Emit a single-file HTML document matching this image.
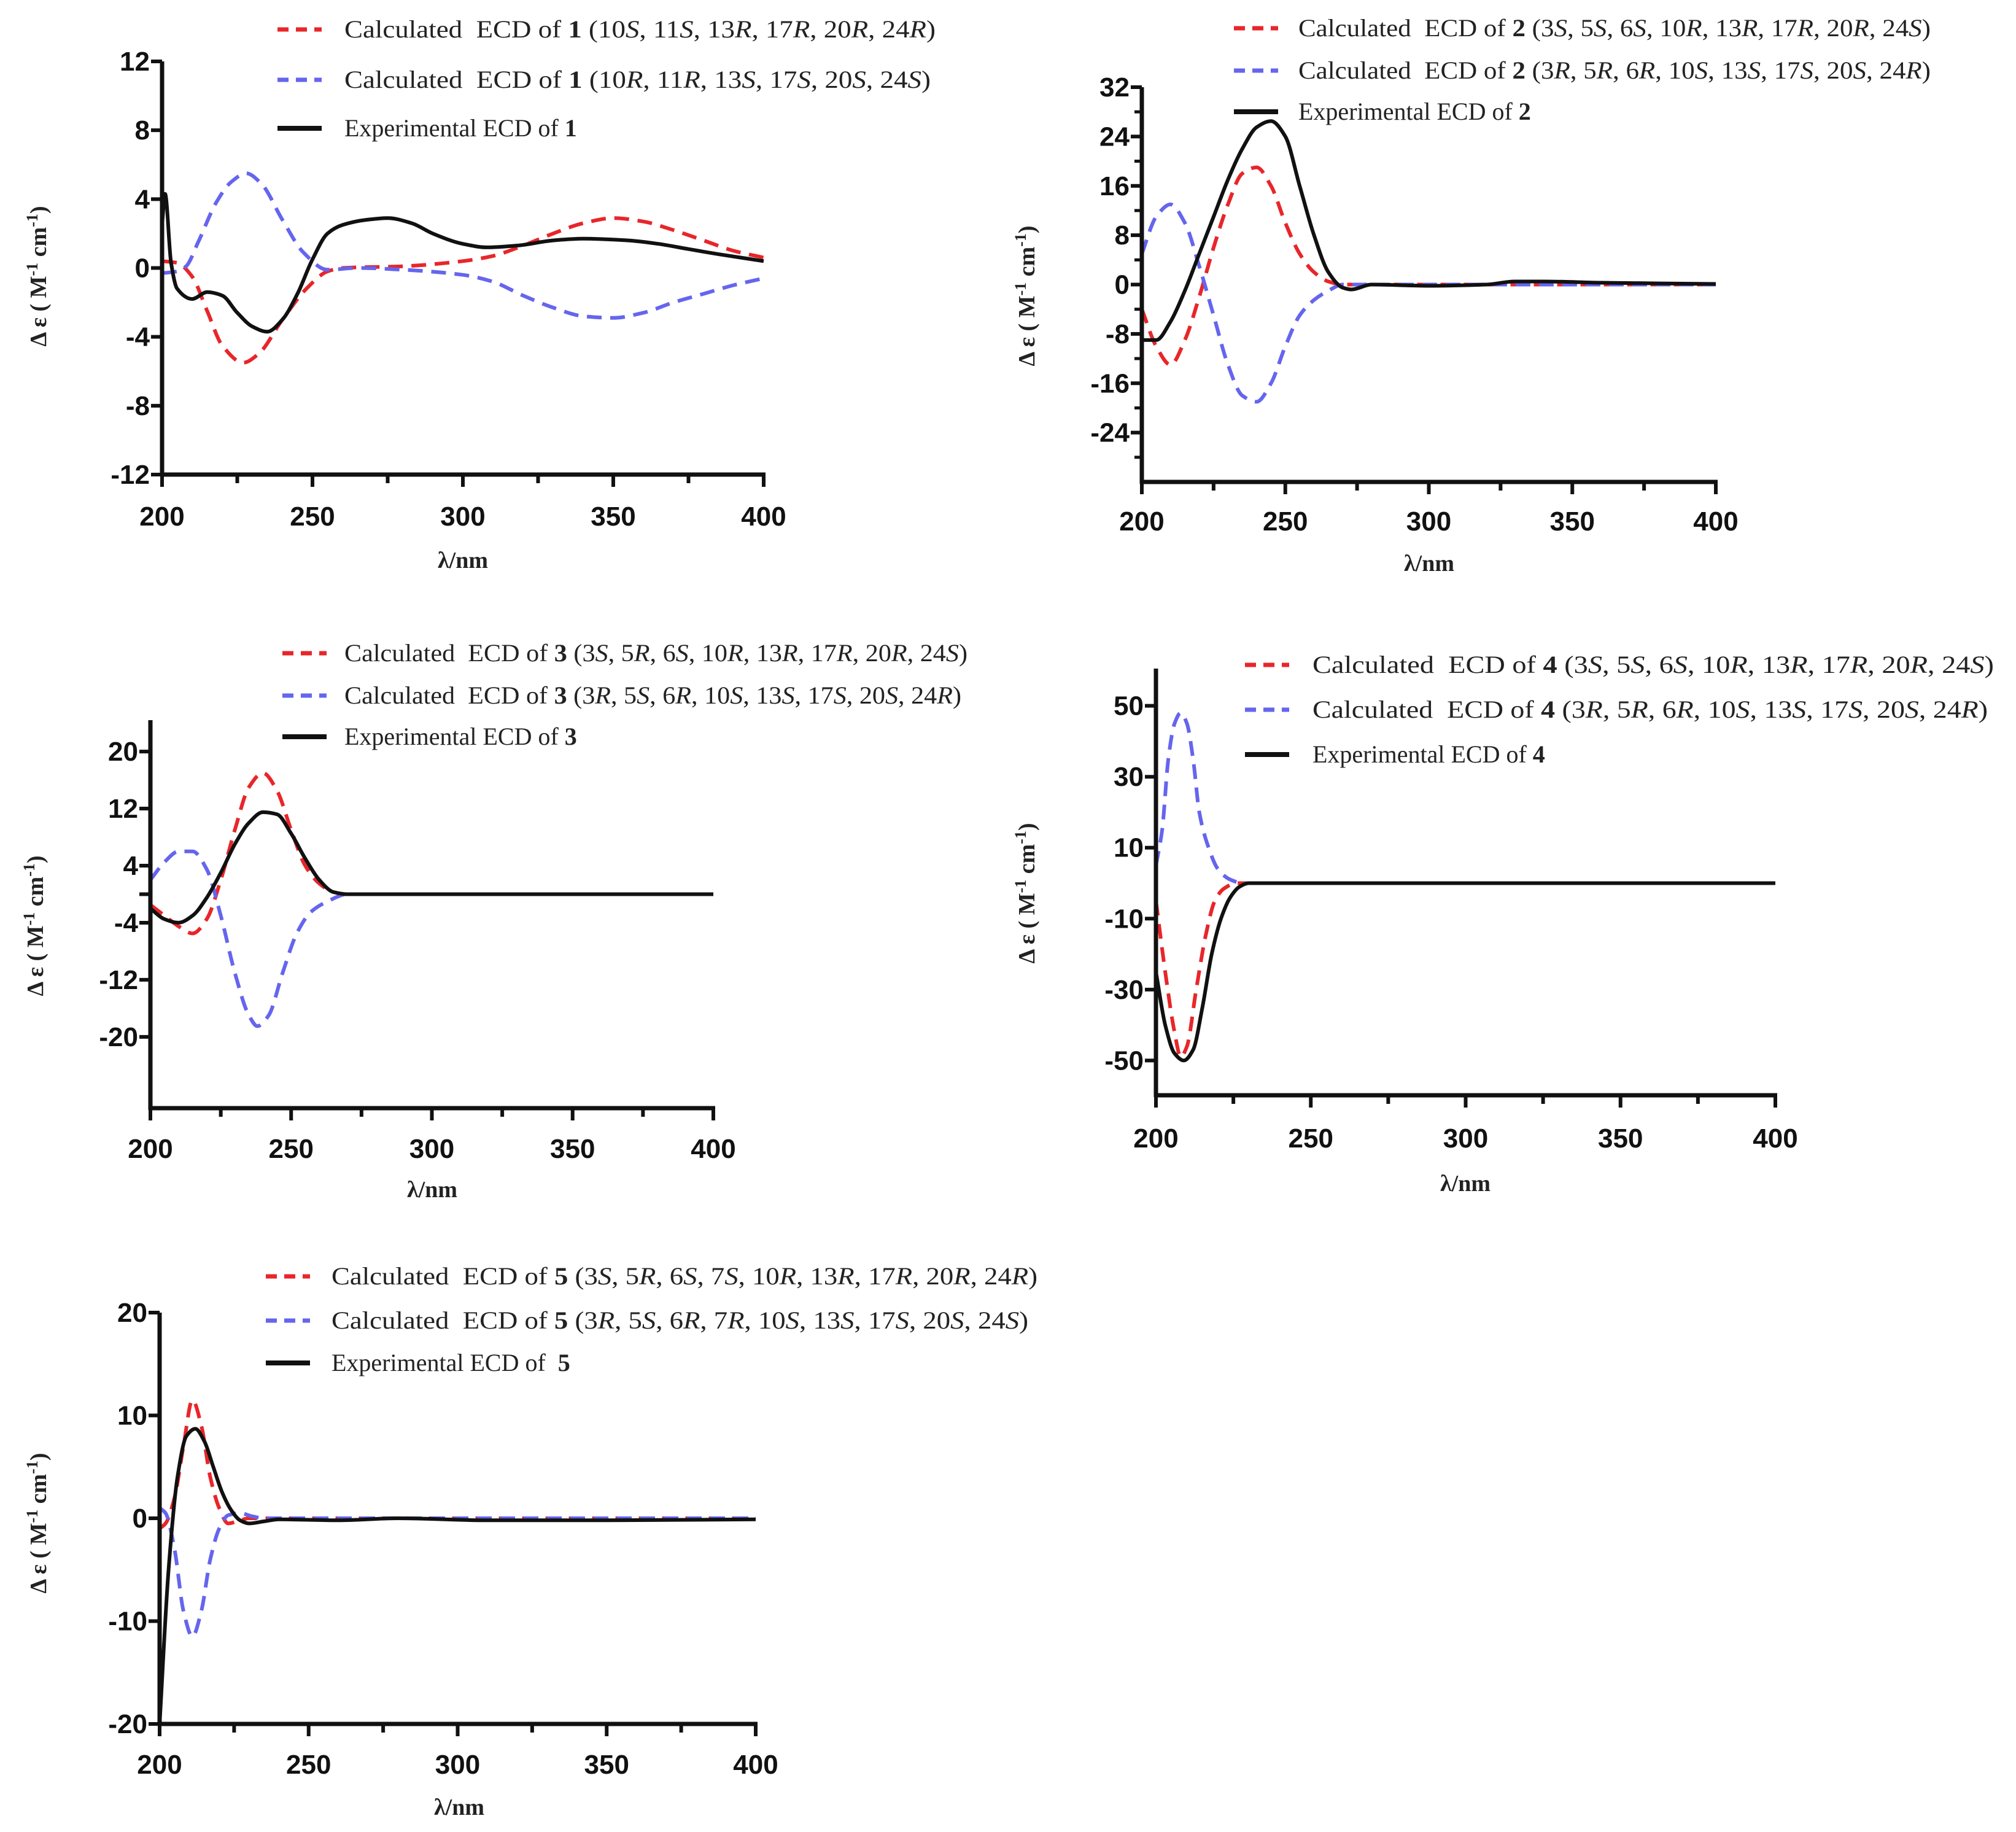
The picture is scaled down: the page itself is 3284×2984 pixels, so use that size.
<!DOCTYPE html>
<html><head><meta charset="utf-8">
<style>
html,body{margin:0;padding:0;background:#fff;}
svg{display:block;}
.tk{font-family:"Liberation Sans",sans-serif;font-weight:bold;font-size:44px;fill:#111;}
.lg{font-family:"Liberation Serif",serif;font-size:40px;fill:#222;}
.ti{font-family:"Liberation Serif",serif;font-weight:bold;font-size:38px;fill:#222;}
</style></head>
<body>
<svg id="fig" width="3284" height="2984" viewBox="0 0 3284 2984" xmlns="http://www.w3.org/2000/svg">
<rect width="3284" height="2984" fill="#fff"/>
</svg>
<script>
// ---- Chart 1 data ----
const c1RedX=[200,205,210,215,220,227,232,240,248,255,260,280,300,310,320,330,340,350,360,370,380,390,400];
const c1RedY=[0.4,0.3,-0.5,-2.5,-4.5,-5.5,-5,-3,-1.2,-0.2,0,0.1,0.4,0.7,1.3,2.0,2.6,2.9,2.7,2.2,1.6,1.0,0.6];
const c1BlueX=[200,205,208,212,218,223,228,233,240,247,255,265,280,300,310,320,330,340,350,360,370,380,390,400];
const c1BlueY=[-0.3,-0.2,0.1,1.5,3.8,5.0,5.5,4.9,2.8,0.9,-0.1,0,-0.1,-0.4,-0.8,-1.6,-2.3,-2.8,-2.9,-2.6,-2.0,-1.5,-1.0,-0.6];
const c1ExpX=[200,201,203,205,210,215,220,225,230,235,240,245,250,255,260,268,275,283,290,300,308,318,330,340,355,365,375,385,400];
const c1ExpY=[2.5,4.3,0.3,-1.2,-1.8,-1.4,-1.6,-2.6,-3.4,-3.7,-3.0,-1.5,0.5,2.0,2.5,2.8,2.9,2.6,2.0,1.4,1.2,1.3,1.6,1.7,1.6,1.4,1.1,0.8,0.4];
const c1Ticks=[12,8,4,0,-4,-8,-12];
// ---- Chart 2 data ----
const c2ExpX=[200,205,210,215,220,225,230,235,240,245,250,255,260,265,270,273,280,300,320,330,340,360,400];
const c2ExpY=[-9,-9,-6,-1,5,11,17,22,25.5,26.5,24,16,8,2,-0.5,-0.8,0,-0.2,0,0.5,0.5,0.3,0.1];
const c2RedX=[200,205,210,215,220,225,230,235,240,245,250,255,260,265,270,400];
const c2RedY=[-4,-10,-13,-9,-2,6,13,18,19,16,10,5,2,0.5,0,0];
const c2BlueX=[200,205,210,215,220,225,230,235,240,245,250,255,260,265,270,400];
const c2BlueY=[5,11,13,10,3,-5,-13,-18,-19,-16,-10,-5,-2.5,-1,0,0];
const c2Ticks=[32,24,16,8,0,-8,-16,-24];
// ---- Chart 3 data ----
const c3ExpX=[200,205,210,215,220,225,230,235,240,245,250,255,260,265,270,400];
const c3ExpY=[-2,-3.5,-4,-3,-0.5,3,7,10,11.5,11.2,8.5,5,2,0.3,0,0];
const c3RedX=[200,205,210,215,220,225,230,235,240,245,250,255,260,265,270,400];
const c3RedY=[-1.5,-3.0,-4.5,-5.5,-3.5,2,9,15,17,14.5,9,4,1.5,0.3,0,0];
const c3BlueX=[200,205,210,215,220,225,230,235,238,242,247,252,257,263,270,400];
const c3BlueY=[2,4.5,6,6,3.5,-3,-11,-17,-18.5,-17,-11,-5.5,-2.5,-1,0,0];
const c3Ticks=[20,12,4,-4,-12,-20];
// ---- Chart 4 data ----
const c4ExpX=[200,203,206,209,212,215,218,221,224,227,230,400];
const c4ExpY=[-25,-40,-48,-50,-47,-35,-20,-10,-4,-1,0,0];
const c4RedX=[200,203,206,208,210,213,216,219,222,226,400];
const c4RedY=[-5,-25,-42,-49,-46,-30,-15,-5,-1.5,0,0];
const c4BlueX=[200,202,204,206,208,210,212,214,217,220,224,228,400];
const c4BlueY=[5,15,35,45,48,45,35,20,10,4,1,0,0];
const c4Ticks=[50,30,10,-10,-30,-50];
// ---- Chart 5 data ----
const c5ExpX=[200,203,206,209,212,215,218,221,224,227,230,235,240,260,280,310,350,400];
const c5ExpY=[-20,-5,4,8,8.7,7.5,5,2.5,0.8,-0.2,-0.5,-0.3,-0.1,-0.2,0,-0.2,-0.2,-0.1];
const c5RedX=[200,202,205,208,211,214,217,220,223,226,230,400];
const c5RedY=[-1,-0.5,2,7,11.5,9,4,1,-0.5,-0.3,0,0];
const c5BlueX=[200,202,205,208,211,214,217,220,223,227,231,235,400];
const c5BlueY=[1,0.5,-3,-9,-11.5,-9,-4,-1,0.3,0.5,0.2,0,0];
const c5Ticks=[20,10,0,-10,-20];
const xTicks=[200,250,300,350,400];

const NS='http://www.w3.org/2000/svg';
const fig=document.getElementById('fig');
function mk(tag,attrs,parent){const e=document.createElementNS(NS,tag);for(const k in attrs)e.setAttribute(k,attrs[k]);(parent||fig).appendChild(e);return e;}

// monotone cubic (Fritsch-Carlson) in data space, mapped to pixels
function monoPath(xs,ys,sx,sy){
  const n=xs.length,d=[],m=[];
  for(let i=0;i<n-1;i++)d.push((ys[i+1]-ys[i])/(xs[i+1]-xs[i]));
  m[0]=d[0];m[n-1]=d[n-2];
  for(let i=1;i<n-1;i++){
    if(d[i-1]*d[i]<=0)m[i]=0;
    else{const h0=xs[i]-xs[i-1],h1=xs[i+1]-xs[i];const w1=2*h1+h0,w2=h1+2*h0;m[i]=(w1+w2)/(w1/d[i-1]+w2/d[i]);}
  }
  let p='M'+sx(xs[0]).toFixed(1)+','+sy(ys[0]).toFixed(1);
  for(let i=0;i<n-1;i++){
    const h=xs[i+1]-xs[i];
    const ax=xs[i]+h/3,ay=ys[i]+m[i]*h/3,bx=xs[i+1]-h/3,by=ys[i+1]-m[i+1]*h/3;
    p+=' C'+sx(ax).toFixed(1)+','+sy(ay).toFixed(1)+' '+sx(bx).toFixed(1)+','+sy(by).toFixed(1)+' '+sx(xs[i+1]).toFixed(1)+','+sy(ys[i+1]).toFixed(1);
  }
  return p;
}

function chart(cfg){
  const g=mk('g',{});
  
  
  const sx=v=>cfg.x0+(v-200)/200*(cfg.x1-cfg.x0);
  const sy=v=>cfg.yB+(v-cfg.ymin)/(cfg.ymax-cfg.ymin)*(cfg.yT-cfg.yB);
  const series=[[cfg.redX,cfg.redY,'#e8262a',true,'red-calculated-curve'],[cfg.blueX,cfg.blueY,'#6565ee',true,'blue-calculated-curve'],[cfg.expX,cfg.expY,'#111',false,'experimental-curve']];
  for(const s of series){
    const p=mk('path',{d:monoPath(s[0],s[1],sx,sy),fill:'none',stroke:s[2],'stroke-width':6,'stroke-dasharray':s[3]?'24,14':'none','stroke-linejoin':'round'},g);
    
    
  }
  const ya=mk('line',{x1:cfg.x0,y1:cfg.yT,x2:cfg.x0,y2:cfg.yB+3,stroke:'#111','stroke-width':7},g);
  
  
  const xa=mk('line',{x1:cfg.x0-3,y1:cfg.yB,x2:cfg.x1+3,y2:cfg.yB,stroke:'#111','stroke-width':7},g);
  
  
  for(let v=200;v<=400;v+=25){
    const major=(v%50===0);
    mk('line',{x1:sx(v),y1:cfg.yB,x2:sx(v),y2:cfg.yB+(major?20:14),stroke:'#111','stroke-width':6},g);
  }
  xTicks.forEach(v=>{
    const t=mk('text',{x:sx(v),y:cfg.xlY,'text-anchor':'middle',class:'tk'},g);
    t.textContent=v;
    
    
  });
  cfg.ticks.forEach(v=>{
    mk('line',{x1:cfg.x0-18,y1:sy(v),x2:cfg.x0,y2:sy(v),stroke:'#111','stroke-width':6},g);
    const t=mk('text',{x:cfg.x0-20,y:sy(v)+15,'text-anchor':'end',class:'tk'},g);
    t.textContent=v;
    
    
  });
  if(cfg.minor){for(let i=0;i<cfg.ticks.length-1;i++){const v=(cfg.ticks[i]+cfg.ticks[i+1])/2;mk('line',{x1:cfg.x0-12,y1:sy(v),x2:cfg.x0,y2:sy(v),stroke:'#111','stroke-width':5},g);}
    const v=cfg.ticks[cfg.ticks.length-1]-4; if(v>=cfg.ymin) mk('line',{x1:cfg.x0-12,y1:sy(v),x2:cfg.x0,y2:sy(v),stroke:'#111','stroke-width':5},g);}
  if(cfg.zeroTick) mk('line',{x1:cfg.x0-18,y1:sy(0),x2:cfg.x0,y2:sy(0),stroke:'#111','stroke-width':6},g);
  const xt=mk('text',{x:cfg.xtX,y:cfg.xtY,'text-anchor':'middle',class:'ti'},g);
  xt.textContent='λ/nm';
  
  
  const yt=mk('text',{x:0,y:0,'text-anchor':'middle',class:'ti',transform:'translate('+cfg.ytX+','+cfg.ytY+') rotate(-90)'},g);
  yt.innerHTML='Δ ε ( M<tspan dy="-14" font-size="26">-1</tspan><tspan dy="14"> cm</tspan><tspan dy="-14" font-size="26">-1</tspan><tspan dy="14">)</tspan>';
  
  
  const lg=mk('g',{},g);
  
  
  const cols=['#e8262a','#6565ee','#111'];
  cfg.leg.forEach((txt,i)=>{
    const y=cfg.legY[i];
    mk('line',{x1:cfg.legX0,y1:y,x2:cfg.legX0+72,y2:y,stroke:cols[i],'stroke-width':i<2?7:8,'stroke-dasharray':i<2?'18,12':'none'},lg);
    const attrs={x:cfg.legTX,y:y+13,class:'lg'};
    if(cfg.legW[i]){attrs.textLength=cfg.legW[i];attrs.lengthAdjust='spacingAndGlyphs';}
    const t=mk('text',attrs,lg);
    t.innerHTML=txt;
    
    
  });
}
function L(n,c){return 'Calculated&#160; ECD of <tspan font-weight="bold">'+n+'</tspan> ('+c.map(s=>s.replace(/(\d+)([RS])/,'$1<tspan font-style="italic">$2</tspan>')).join(', ')+')';}
function E(n){return 'Experimental ECD of <tspan font-weight="bold">'+n+'</tspan>';}

chart({name:'chart-compound-1',x0:264,x1:1244,yT:100,yB:773,ymin:-12,ymax:12,ticks:c1Ticks,minor:false,
  redX:c1RedX,redY:c1RedY,blueX:c1BlueX,blueY:c1BlueY,expX:c1ExpX,expY:c1ExpY,
  xlY:856,xtX:754,xtY:925,ytX:75,ytY:450,legX0:452,legTX:561,legY:[48,130,209],legW:[963,955,0],
  leg:[L(1,['10S','11S','13R','17R','20R','24R']),L(1,['10R','11R','13S','17S','20S','24S']),E(1)]});
chart({name:'chart-compound-2',x0:1860,x1:2795,yT:142,yB:785,ymin:-32,ymax:32,ticks:c2Ticks,minor:true,
  redX:c2RedX,redY:c2RedY,blueX:c2BlueX,blueY:c2BlueY,expX:c2ExpX,expY:c2ExpY,
  xlY:864,xtX:2328,xtY:930,ytX:1685,ytY:482,legX0:2010,legTX:2115,legY:[46,115,182],legW:[1030,1030,0],
  leg:[L(2,['3S','5S','6S','10R','13R','17R','20R','24S']),L(2,['3R','5R','6R','10S','13S','17S','20S','24R']),E(2)]});
chart({name:'chart-compound-3',x0:245,x1:1162,yT:1173,yB:1805,ymin:-30,ymax:24.4,ticks:c3Ticks,minor:false,zeroTick:true,
  redX:c3RedX,redY:c3RedY,blueX:c3BlueX,blueY:c3BlueY,expX:c3ExpX,expY:c3ExpY,
  xlY:1886,xtX:704,xtY:1950,ytX:70,ytY:1508,legX0:460,legTX:561,legY:[1064,1133,1200],legW:[1015,1005,0],
  leg:[L(3,['3S','5R','6S','10R','13R','17R','20R','24S']),L(3,['3R','5S','6R','10S','13S','17S','20S','24R']),E(3)]});
chart({name:'chart-compound-4',x0:1883,x1:2892,yT:1089,yB:1784,ymin:-59.8,ymax:60.5,ticks:c4Ticks,minor:false,
  redX:c4RedX,redY:c4RedY,blueX:c4BlueX,blueY:c4BlueY,expX:c4ExpX,expY:c4ExpY,
  xlY:1869,xtX:2387,xtY:1940,ytX:1685,ytY:1455,legX0:2028,legTX:2138,legY:[1083,1156,1229],legW:[1110,1100,0],
  leg:[L(4,['3S','5S','6S','10R','13R','17R','20R','24S']),L(4,['3R','5R','6R','10S','13S','17S','20S','24R']),E(4)]});
chart({name:'chart-compound-5',x0:260,x1:1231,yT:2138,yB:2808,ymin:-20,ymax:20,ticks:c5Ticks,minor:false,
  redX:c5RedX,redY:c5RedY,blueX:c5BlueX,blueY:c5BlueY,expX:c5ExpX,expY:c5ExpY,
  xlY:2889,xtX:748,xtY:2956,ytX:75,ytY:2481,legX0:433,legTX:540,legY:[2079,2151,2220],legW:[1150,1135,0],
  leg:[L(5,['3S','5R','6S','7S','10R','13R','17R','20R','24R']),L(5,['3R','5S','6R','7R','10S','13S','17S','20S','24S']),'Experimental ECD of&#160; <tspan font-weight="bold">5</tspan>']});
</script>
</body></html>
